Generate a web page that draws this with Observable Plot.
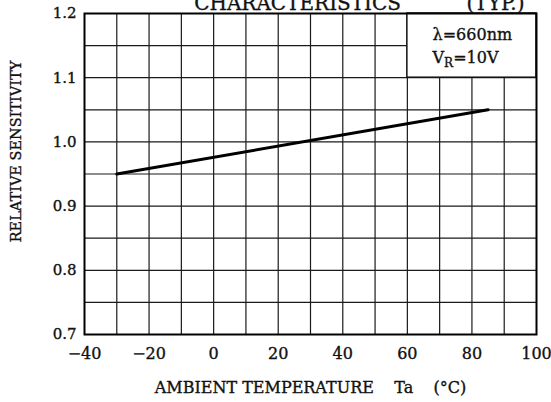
<!DOCTYPE html>
<html><head><meta charset="utf-8">
<script src="https://cdn.jsdelivr.net/npm/d3@7"></script>
<script src="https://cdn.jsdelivr.net/npm/@observablehq/plot@0.6"></script>
<style>body{margin:0;background:#fff} svg{font-family:"DejaVu Serif",serif} svg text{stroke:#111;stroke-width:0.35px}</style>
</head><body><div id="chart"></div>
<script>
// Data
const temperature = [-30, 85];
const sensitivity = [0.95, 1.05];
const xTicks = [-40, -20, 0, 20, 40, 60, 80, 100];
const yTicks = [0.7, 0.8, 0.9, 1.0, 1.1, 1.2];
const xGrid = [-30, -20, -10, 0, 10, 20, 30, 40, 50, 60, 70, 80, 90];
const yGrid = [0.75, 0.8, 0.85, 0.9, 0.95, 1.0, 1.05, 1.1, 1.15];
const legendLines = ["λ=660nm", "VR=10V"];
const titleParts = ["CHARACTERISTICS", "(TYP.)"];
const xLabel = "AMBIENT TEMPERATURE\u00a0\u00a0\u00a0\u00a0Ta\u00a0\u00a0\u00a0\u00a0(°C)";
const yLabel = "RELATIVE SENSITIVITY";

const series = temperature.map((t, i) => ({t, s: sensitivity[i]}));
const fmtX = d => d < 0 ? "\u2212" + Math.abs(d) : String(d);

const chart = Plot.plot({
  width: 551, height: 402,
  marginLeft: 84, marginRight: 15, marginTop: 13, marginBottom: 68,
  x: {domain: [-40, 100]},
  y: {domain: [0.7, 1.2]},
  style: {fontFamily: '"DejaVu Serif", serif', fontSize: "16px", color: "#111", background: "#fff"},
  marks: [
    Plot.ruleX(xGrid, {stroke: "#1a1a1a", strokeWidth: 1.2}),
    Plot.ruleY(yGrid, {stroke: "#1a1a1a", strokeWidth: 1.2}),
    Plot.rect([{x1: 60, x2: 100, y1: 1.1, y2: 1.2}], {x1: "x1", x2: "x2", y1: "y1", y2: "y2", fill: "white", stroke: "#111", strokeWidth: 1.5}),
    Plot.line(series, {x: "t", y: "s", stroke: "#000", strokeWidth: 3}),
    Plot.frame({stroke: "#000", strokeWidth: 2}),
    Plot.axisX(xTicks, {tickSize: 0, tickPadding: 13, tickFormat: fmtX, fontSize: 16, label: null}),
    Plot.axisY(yTicks, {tickSize: 0, tickPadding: 8, tickFormat: d => d.toFixed(1), fontSize: 15, label: null}),
    Plot.text([legendLines[0]], {x: 67.8, y: 1.166, textAnchor: "start", fontSize: 16}),
    Plot.text([legendLines[1]], {x: 67.8, y: 1.131, textAnchor: "start", fontSize: 16, className: "vr"}),
    Plot.text([titleParts[0]], {x: 26, y: 1.2, dy: -4, lineAnchor: "bottom", fontSize: 20}),
    Plot.text([titleParts[1]], {x: 87.3, y: 1.2, dy: -4, lineAnchor: "bottom", fontSize: 20}),
    Plot.text([xLabel], {frameAnchor: "bottom", dy: 58, fontSize: 16}),
    Plot.text([yLabel], {x: -40, y: 0.985, dx: -68, rotate: -90, fontSize: 14.5})
  ]
});
chart.querySelectorAll("text").forEach(t => {
  if (t.textContent === "VR=10V") {
    t.textContent = "";
    const ns = "http://www.w3.org/2000/svg";
    const a = document.createElementNS(ns, "tspan"); a.textContent = "V";
    const b = document.createElementNS(ns, "tspan"); b.textContent = "R"; b.setAttribute("font-size", "12"); b.setAttribute("dy", "4");
    const c = document.createElementNS(ns, "tspan"); c.textContent = "=10V"; c.setAttribute("dy", "-4");
    t.append(a, b, c);
  }
});
document.getElementById("chart").append(chart);
</script>
</body></html>
